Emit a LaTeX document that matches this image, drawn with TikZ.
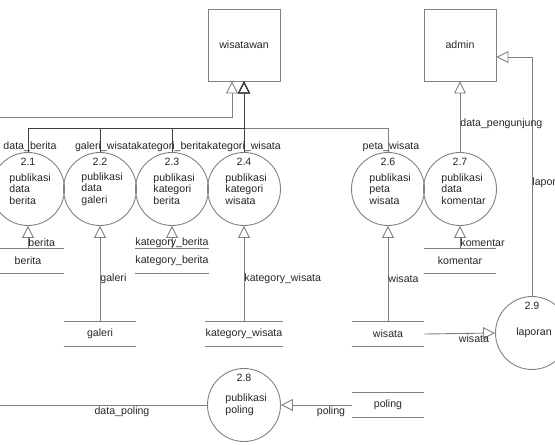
\documentclass[tikz,border=0pt]{standalone}
\usepackage{fontspec}
\setmainfont{Liberation Sans}
\usetikzlibrary{arrows.meta}

\tikzset{
  every node/.style={font=\fontsize{10.6}{11.5}\selectfont, text=black!85},
  entity/.style={draw=gray, minimum width=72pt, minimum height=72pt, inner sep=0pt},
  proc/.style={draw=gray, circle, minimum size=73pt, inner sep=0pt},
  pnum/.style={inner sep=0pt},
  ptext/.style={inner sep=0pt, align=left, anchor=west},
  store/.style={minimum width=72pt, minimum height=24pt, inner sep=0pt},
  flow/.style={draw=gray, -{Triangle[open, length=12pt, width=12pt]}},
  lbl/.style={inner sep=0pt},
}

\begin{document}
\begin{tikzpicture}[x=1pt, y=-1pt, line width=0.9pt]
\useasboundingbox (0,0) rectangle (555,445);

% external entities
\node[entity] (wis) at (244,45) {wisatawan};
\node[entity] (adm) at (460,45) {admin};

% processes
\node[proc] (c21) at (28,189) {};
\node[pnum] (n21) at (28,162) {2.1};
\node[ptext] (t21) at (9,189) {publikasi\\data\\berita};

\node[proc] (c22) at (100,189) {};
\node[pnum] (n22) at (100,162) {2.2};
\node[ptext] (t22) at (81,189) {publikasi\\data\\galeri};

\node[proc] (c23) at (172,189) {};
\node[pnum] (n23) at (172,162) {2.3};
\node[ptext] (t23) at (153,189) {publikasi\\kategori\\berita};

\node[proc] (c24) at (244,189) {};
\node[pnum] (n24) at (244,162) {2.4};
\node[ptext] (t24) at (225,189) {publikasi\\kategori\\wisata};

\node[proc] (c26) at (388,189) {};
\node[pnum] (n26) at (388,162) {2.6};
\node[ptext] (t26) at (369,189) {publikasi\\peta\\wisata};

\node[proc] (c27) at (460,189) {};
\node[pnum] (n27) at (460,162) {2.7};
\node[ptext] (t27) at (441,189) {publikasi\\data\\komentar};

\node[proc] (c28) at (244,405) {};
\node[pnum] (n28) at (244,378) {2.8};
\node[ptext] (t28) at (225,405) {publikasi\\poling};

\node[proc] (c29) at (532,333) {};
\node[pnum] (n29) at (532,306) {2.9};
\node[lbl] (t29) at (534,333) {laporan};

% data stores
\node[store] (sberita) at (28,261) {berita};
\node[store] (skatb) at (172,261) {kategory\_berita};
\node[store] (skom) at (460,261) {komentar};
\node[store] (sgaleri) at (100,334) {galeri};
\node[store] (skatw) at (244,334) {kategory\_wisata};
\node[store] (swisata) at (388,334) {wisata};
\node[store] (spoling) at (388,405) {poling};

\foreach \s in {sberita,skatb,skom,sgaleri,skatw,swisata,spoling}
  \draw[gray] (\s.north west) -- (\s.north east) (\s.south west) -- (\s.south east);

% flows
\coordinate (lft1) at (-5,117);
\coordinate (lft2) at (-5,405);
\coordinate (jn) at (244,128);

\draw[flow] (lft1) -| ([xshift=-12pt]wis.south);
\draw[flow] (c26.north) |- (jn) -- (wis.south);
\draw[flow, draw=black!75] (c21.north) |- (jn) -- (wis.south);
\draw[flow, draw=black!75] (c22.north) |- (jn) -- (wis.south);
\draw[flow, draw=black!75] (c23.north) |- (jn) -- (wis.south);
\draw[flow, draw=black!75] (c24.north) -- (wis.south);

\draw[flow] (c27.north) -- (adm.south);
\draw[flow] (c29.north) |- ([yshift=-12pt]adm.east);

\draw[flow] (sberita.north) -- (c21.south);
\draw[flow] (sgaleri.north) -- (c22.south);
\draw[flow] (skatb.north) -- (c23.south);
\draw[flow] (skatw.north) -- (c24.south);
\draw[flow] (swisata.north) -- (c26.south);
\draw[flow] (skom.north) -- (c27.south);
\draw[flow] (swisata.east) -- (c29.west);
\draw[flow] (spoling.west) -- (c28.east);
\draw[gray] (c28.west) -- (lft2);

% flow labels
\node[lbl] (l1) at (30,147) {data\_berita};
\node[lbl] (l2) at (106,147) {galeri\_wisata};
\node[lbl] (l3) at (172,147) {kategori\_berita};
\node[lbl] (l4) at (244,147) {kategori\_wisata};
\node[lbl] (l5) at (391,147) {peta\_wisata};
\node[lbl, anchor=west] (l6) at (28,243) {berita};
\node[lbl] (l7) at (172,243) {kategory\_berita};
\node[lbl, anchor=west] (l8) at (460,243) {komentar};
\node[lbl, anchor=west] (l9) at (100,279) {galeri};
\node[lbl, anchor=west] (l10) at (244,279) {kategory\_wisata};
\node[lbl, anchor=west] (l11) at (388,279) {wisata};
\node[lbl, anchor=west] (l12) at (460,124) {data\_pengunjung};
\node[lbl, anchor=west] (l13) at (532,183) {laporan};
\node[lbl] (l14) at (474,339) {wisata};
\node[lbl] (l15) at (122,412) {data\_poling};
\node[lbl] (l16) at (331,412) {poling};

\end{tikzpicture}
\end{document}
